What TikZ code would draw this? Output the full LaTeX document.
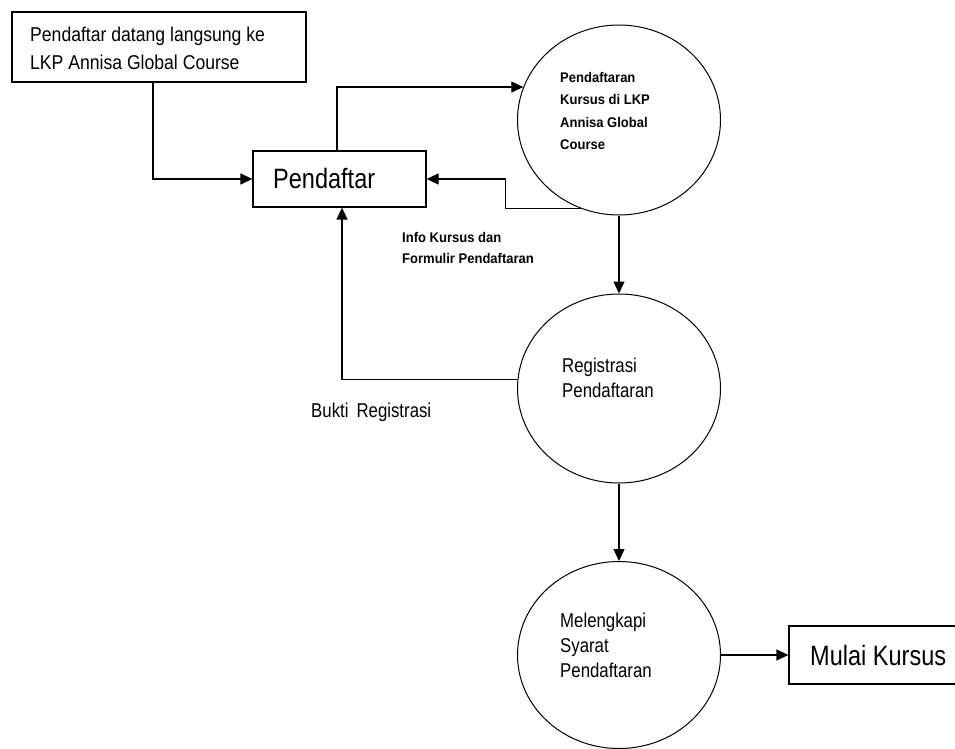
\documentclass[tikz,border=0pt]{standalone}
\usepackage{fontspec}
\setmainfont{Liberation Sans}
\newfontfamily\nar[FakeStretch=0.84]{Liberation Sans}
\newfontfamily\narb[FakeStretch=0.88]{Liberation Sans}
\newfontfamily\smb[FakeStretch=0.93]{Liberation Sans}
\usetikzlibrary{arrows.meta,shapes.geometric}
\begin{document}
\begin{tikzpicture}[x=1pt,y=-1pt,
  box/.style={draw,line width=1.3pt,inner sep=0pt},
  proc/.style={draw,ellipse,line width=1pt,inner sep=0pt,minimum width=203pt},
  txt/.style={anchor=north west,inner sep=0pt,align=left,font=\nar},
  arr/.style={line width=1.3pt,-{Triangle[length=12pt,width=11pt]}},
  ln/.style={line width=1.3pt}]
\clip (0,0) rectangle (955,749);
\fill[white] (0,0) rectangle (955,749);
% boxes
\node[box,minimum width=294pt,minimum height=70pt] (top) at (159,47) {};
\node[box,minimum width=173pt,minimum height=56pt] (pend) at (339.5,179) {};
\node[box,minimum width=175pt,minimum height=58pt] (mulai) at (876.5,655) {};
% processes
\node[proc,minimum height=190pt] (c1) at (619,120) {};
\node[proc,minimum height=189pt] (c2) at (619,388.5) {};
\node[proc,minimum height=187pt] (c3) at (619,655) {};
% texts
\node[txt,font=\narb\fontsize{20}{28}\selectfont] (ttop) at (30,27) {Pendaftar datang langsung ke\\LKP Annisa Global Course};
\node[txt,font=\nar\fontsize{28}{34}\selectfont] (tpend) at (273,168) {Pendaftar};
\node[txt,font=\smb\bfseries\fontsize{14}{22.4}\selectfont] (tc1) at (560,72) {Pendaftaran\\Kursus di LKP\\Annisa Global\\Course};
\node[txt,font=\smb\bfseries\fontsize{14}{21}\selectfont] (tinfo) at (402,232) {Info Kursus dan\\Formulir Pendaftaran};
\node[txt,font=\nar\fontsize{20}{25}\selectfont] (tc2) at (562,358) {Registrasi\\Pendaftaran};
\node[txt,font=\nar\fontsize{20}{25}\selectfont] (tbukti) at (311,403) {Bukti\hspace{8pt}Registrasi};
\node[txt,font=\nar\fontsize{20}{25}\selectfont] (tc3) at (560,613) {Melengkapi\\Syarat\\Pendaftaran};
\node[txt,font=\nar\fontsize{28}{34}\selectfont] (tmulai) at (810,645) {Mulai Kursus};
% connectors
\draw[arr] ([xshift=-6pt]top.south) |- (pend.west);
\draw[arr] ([xshift=-2.5pt]pend.north) |- (c1.161.4);
\draw[arr] (c1.247) -- ++(-76,0) |- (pend.east);
\draw[arr] (c1.south) -- (c2.north);
\draw[arr] (c2.175) -| ([xshift=2.5pt]pend.south);
\draw[arr] (c2.south) -- (c3.north);
\draw[arr] (c3.east) -- (mulai.west);
\end{tikzpicture}
\end{document}
